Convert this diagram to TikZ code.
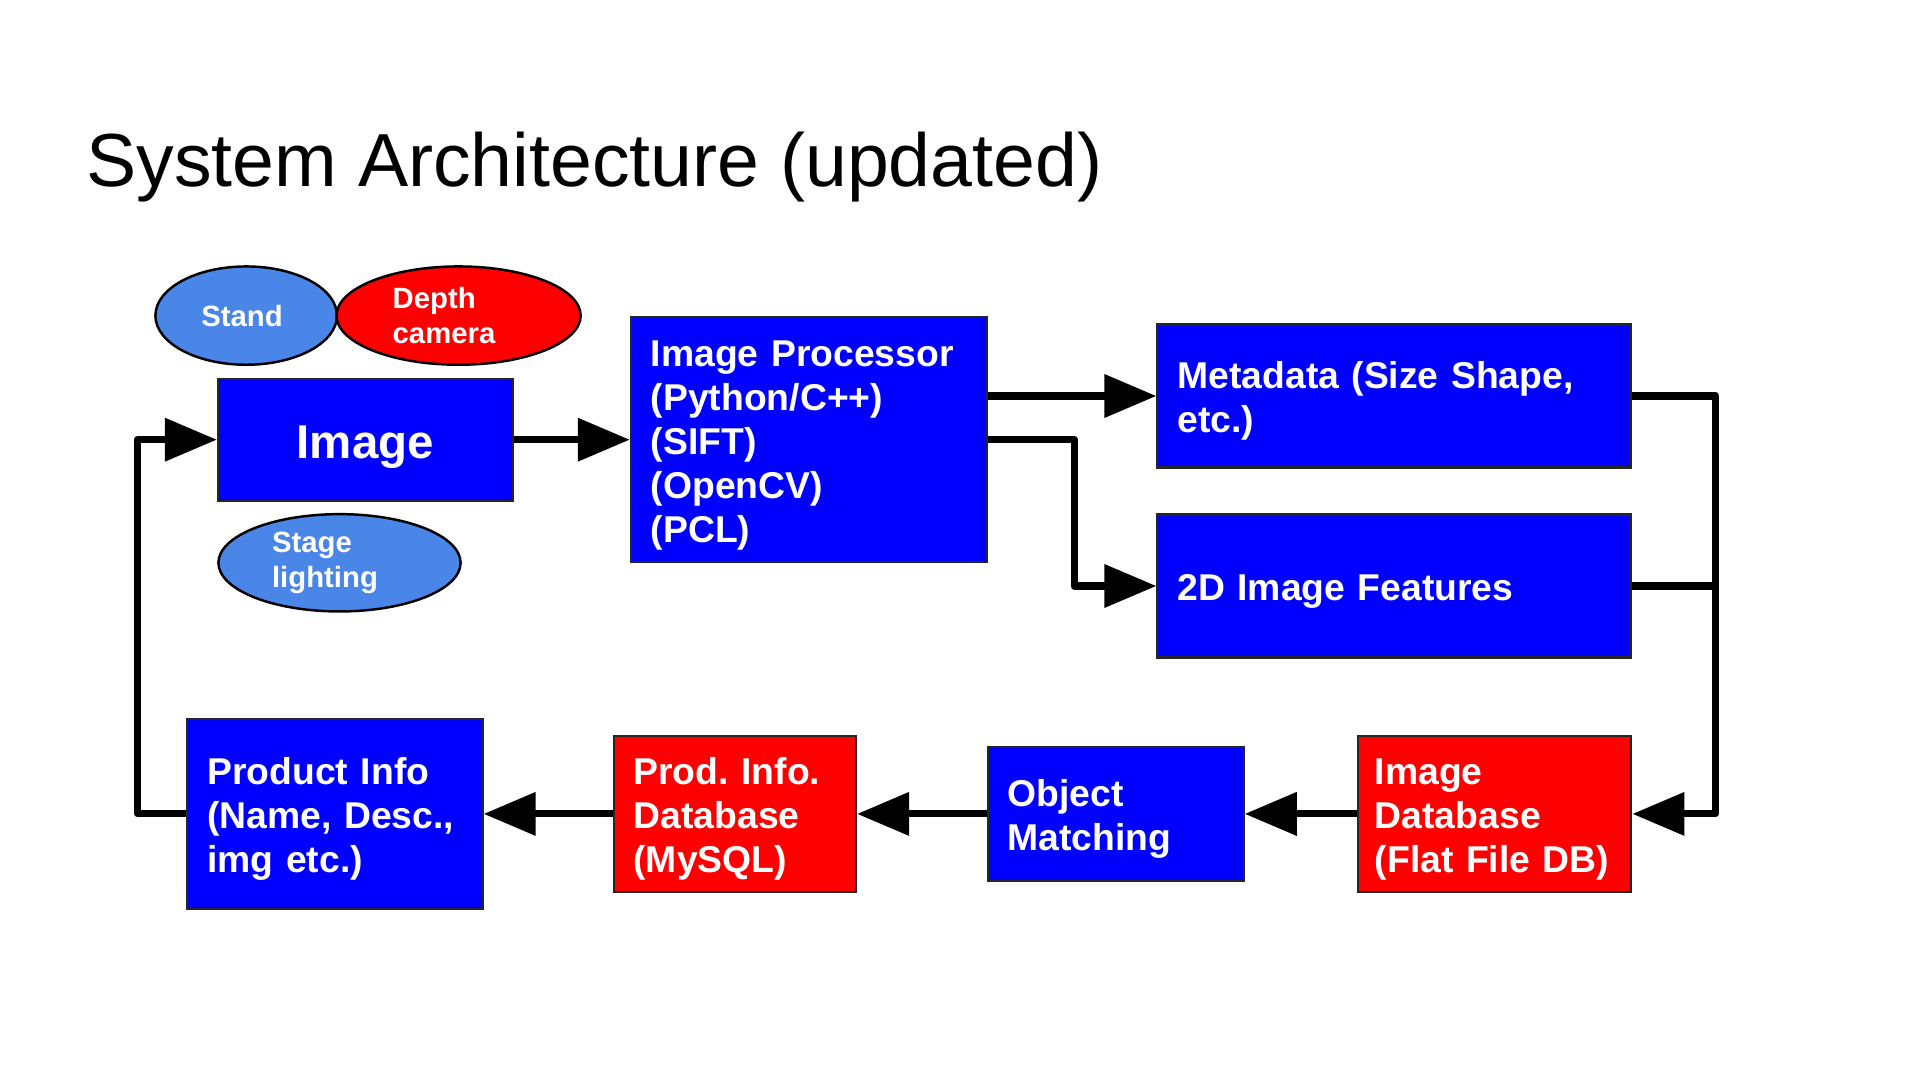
\documentclass[tikz,border=0pt]{standalone}
\usepackage{fontspec}
\setmainfont{Liberation Sans}
\usepackage{tikz}
\usetikzlibrary{shapes.geometric, arrows.meta, positioning, calc}
\definecolor{boxblue}{RGB}{0, 0, 255}
\definecolor{boxred}{RGB}{255, 0, 0}
\definecolor{partblue}{RGB}{74, 134, 232}
\frenchspacing

\begin{document}
\begin{tikzpicture}[
    block/.style={draw=black!85, line width=0.6pt, text=white, inner xsep=0.2cm, align=left,
        font=\fontsize{10.62}{12.5}\selectfont\bfseries, execute at begin node={\rule{0pt}{1em}}},
    part/.style={ellipse, draw=black, line width=0.7pt, inner sep=0pt},
    parttext/.style={text=white, inner sep=0pt, align=left,
        font=\fontsize{8.34}{10.12}\selectfont\bfseries},
    flow/.style={line width=2pt, line join=round, -{Triangle[length=0.52cm, width=0.42cm]}},
    link/.style={line width=2pt, line join=round}
]
    \useasboundingbox (0, 0) rectangle (19.2, -10.8);

    % Title
    \node[anchor=base west, inner sep=0pt, font=\fontsize{21.4}{25}\selectfont] (title) at (0.858, -1.866) {System Architecture (updated)};

    % Capture parts
    \node[part, fill=partblue, minimum width=1.816cm, minimum height=0.983cm] (stand) at (2.462, -3.156) {};
    \node[parttext] (standtxt) at (2.42, -3.156) {Stand};
    \node[part, fill=boxred, minimum width=2.442cm, minimum height=0.983cm] (depth) at (4.586, -3.156) {};
    \node[parttext] (depthtxt) at (4.44, -3.156) {Depth\\camera};
    \node[part, fill=partblue, minimum width=2.422cm, minimum height=0.973cm] (stage) at (3.395, -5.628) {};
    \node[parttext] (stagetxt) at (3.25, -5.628) {Stage\\lighting};

    % Image
    \node[block, fill=boxblue, align=center, text width=2.548cm, minimum height=1.221cm,
        font=\fontsize{13.5}{16}\selectfont\bfseries, execute at begin node={\rule{0pt}{0.94em}}] (img) at (3.653, -4.397) {Image};

    % Image processor
    \node[block, fill=boxblue, text width=3.164cm, minimum height=2.452cm] (proc) at (8.09, -4.397)
        {Image Processor\\(Python/C++)\\(SIFT)\\(OpenCV)\\(PCL)};

    % Extracted data
    \node[block, fill=boxblue, text width=4.34cm, minimum height=1.429cm] (meta) at (13.944, -3.96)
        {Metadata (Size Shape,\\etc.)};
    \node[block, fill=boxblue, text width=4.34cm, minimum height=1.429cm] (feat) at (13.944, -5.86)
        {2D Image Features};

    % Lookup chain
    \node[block, fill=boxred, text width=2.40cm, inner xsep=0.166cm, minimum height=1.529cm] (imgdb) at (14.948, -8.139)
        {Image\\Database\\(Flat File DB)};
    \node[block, fill=boxblue, text width=2.16cm, minimum height=1.335cm] (match) at (11.157, -8.139)
        {Object\\Matching};
    \node[block, fill=boxred, text width=2.025cm, minimum height=1.529cm] (proddb) at (7.348, -8.139)
        {Prod. Info.\\Database\\(MySQL)};
    \node[block, fill=boxblue, text width=2.552cm, minimum height=1.899cm] (info) at (3.35, -8.139)
        {Product Info\\(Name, Desc.,\\img etc.)};

    % Routing points
    \coordinate (split) at (10.741, -4.397);
    \coordinate (rlane) at (17.158, -3.96);
    \coordinate (llane) at (1.372, -8.139);

    % Connectors
    \draw[flow] (img) -- (proc);
    \draw[flow] (proc.east |- meta.west) -- (meta.west);
    \draw[flow] (proc.east) -- (split) |- (feat.west);
    \draw[flow] (meta.east) -- (rlane) |- (imgdb.east);
    \draw[link] (feat.east) -- (feat.east -| rlane);
    \draw[flow] (imgdb) -- (match);
    \draw[flow] (match) -- (proddb);
    \draw[flow] (proddb) -- (info);
    \draw[flow] (info.west) -- (llane) |- (img.west);

\end{tikzpicture}
\end{document}
